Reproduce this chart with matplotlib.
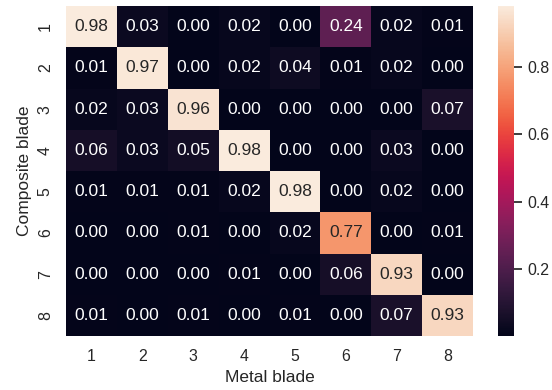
import numpy as np
import pandas as pd
import matplotlib
matplotlib.use('Agg')
import matplotlib.pyplot as plt
import seaborn as sns

labels = ['1', '2', '3', '4', '5', '6', '7', '8']
# 行: Composite blade, 列: Metal blade
row1 = [0.98, 0.03, 0.00, 0.02, 0.00, 0.24, 0.02, 0.01]
row2 = [0.01, 0.97, 0.00, 0.02, 0.04, 0.01, 0.02, 0.00]
row3 = [0.02, 0.03, 0.96, 0.00, 0.00, 0.00, 0.00, 0.07]
row4 = [0.06, 0.03, 0.05, 0.98, 0.00, 0.00, 0.03, 0.00]
row5 = [0.01, 0.01, 0.01, 0.02, 0.98, 0.00, 0.02, 0.00]
row6 = [0.00, 0.00, 0.01, 0.00, 0.02, 0.77, 0.00, 0.01]
row7 = [0.00, 0.00, 0.00, 0.01, 0.00, 0.06, 0.93, 0.00]
row8 = [0.01, 0.00, 0.01, 0.00, 0.01, 0.00, 0.07, 0.93]

cm = pd.DataFrame([row1, row2, row3, row4, row5, row6, row7, row8],
                  index=labels, columns=labels)

sns.set(font_scale=1.04)
plt.rcParams['font.family'] = ['Liberation Sans', 'DejaVu Sans']

W, H = 552, 390
fig = plt.figure(figsize=(W / 100, H / 100), dpi=100)
ax = fig.add_axes([66 / W, (H - 336) / H, (473 - 66) / W, (336 - 6) / H])
cax = fig.add_axes([498 / W, (H - 336) / H, (514 - 498) / W, (336 - 6) / H])
sns.heatmap(cm, annot=True, fmt='.2f', ax=ax, cbar_ax=cax, vmin=0.003, vmax=0.98)
ax.set_xlabel('Metal blade')
ax.set_ylabel('Composite blade')
plt.savefig('out.png')
